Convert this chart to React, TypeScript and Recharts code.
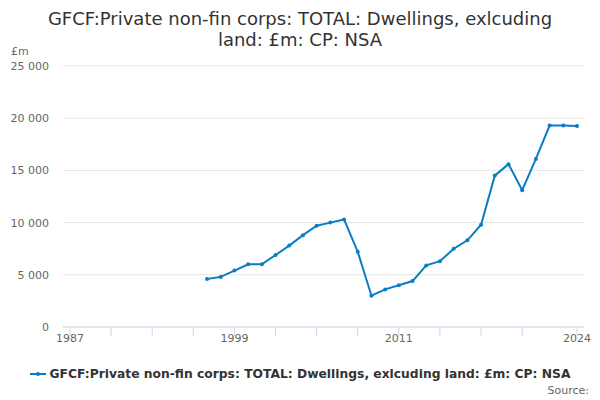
import { CartesianGrid, Line, LineChart, XAxis, YAxis } from "recharts";

const years = [
  1997, 1998, 1999, 2000, 2001, 2002, 2003, 2004, 2005, 2006, 2007, 2008, 2009, 2010,
  2011, 2012, 2013, 2014, 2015, 2016, 2017, 2018, 2019, 2020, 2021, 2022, 2023, 2024,
];
const values = [
  4600, 4800, 5400, 6000, 6000, 6900, 7800, 8800, 9700, 10000, 10300, 7200, 3000, 3600,
  4000, 4400, 5900, 6300, 7500, 8300, 9800, 14500, 15600, 13100, 16100, 19300, 19300, 19250,
];
const xTicks = [1987, 1990, 1993, 1996, 1999, 2002, 2005, 2008, 2011, 2014, 2017, 2020, 2024];
const xLabels = [1987, 1999, 2011, 2024];
const yTicks = [0, 5000, 10000, 15000, 20000, 25000];

const seriesName = "GFCF:Private non-fin corps: TOTAL: Dwellings, exlcuding land: £m: CP: NSA";
const color = "#0a7cc2";
const font = "'DejaVu Sans', sans-serif";

const data = years.map((y, i) => ({ year: y, value: values[i] }));

function fmt(v: number): string {
  return String(v).replace(/\B(?=(\d{3})+(?!\d))/g, " ");
}

function XTick(props: any) {
  const { x, y, payload } = props;
  if (!xLabels.includes(payload.value)) return null;
  return (
    <text x={x} y={y - 2} dy="0.71em" textAnchor="middle" fill="#666" fontSize={11} fontFamily={font}>
      {payload.value}
    </text>
  );
}

export default function App() {
  return (
    <div style={{ position: "absolute", left: 0, top: 0, width: 600, height: 400, background: "#fff", fontFamily: font }}>
      <div
        style={{
          position: "absolute",
          top: 8,
          left: 40,
          width: 520,
          textAlign: "center",
          fontSize: 18,
          lineHeight: "21px",
          color: "#333",
        }}
      >
        {seriesName}
      </div>
      <div style={{ position: "absolute", left: 11, top: 45, fontSize: 11, color: "#666" }}>£m</div>
      <LineChart width={600} height={400} data={data} margin={{ top: 66, right: 16, bottom: 0, left: 0 }}>
        <CartesianGrid horizontal vertical={false} stroke="#e6e6e6" />
        <XAxis
          dataKey="year"
          type="number"
          domain={[1987, 2024]}
          ticks={xTicks}
          interval={0}
          padding={{ left: 7, right: 7 }}
          stroke="#ccd6eb"
          tickSize={9}
          tickMargin={0}
          tick={XTick}
          height={73}
        />
        <YAxis
          domain={[0, 25000]}
          ticks={yTicks}
          width={63}
          axisLine={false}
          tickLine={false}
          tickSize={0}
          tickMargin={14}
          tickFormatter={fmt}
          tick={{ fill: "#666", fontSize: 11, fontFamily: font }}
        />
        <Line
          dataKey="value"
          name={seriesName}
          stroke={color}
          strokeWidth={2}
          dot={{ r: 2, fill: color, stroke: color, strokeWidth: 0 }}
          isAnimationActive={false}
        />
      </LineChart>
      <div
        style={{
          position: "absolute",
          top: 367,
          left: 0,
          width: 600,
          display: "flex",
          justifyContent: "center",
          alignItems: "center",
        }}
      >
        <svg width={16} height={10} style={{ marginRight: 4 }}>
          <line x1={0} y1={5} x2={16} y2={5} stroke={color} strokeWidth={2} />
          <circle cx={8} cy={5} r={2} fill={color} />
        </svg>
        <span style={{ fontSize: 12.3, fontWeight: "bold", color: "#333" }}>{seriesName}</span>
      </div>
      <div style={{ position: "absolute", right: 11, top: 384, fontSize: 11, color: "#666" }}>Source:</div>
    </div>
  );
}
